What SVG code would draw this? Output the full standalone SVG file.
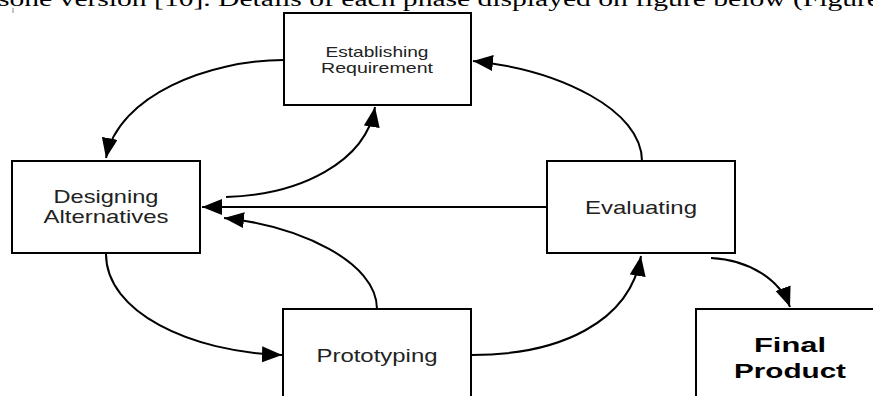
<svg xmlns="http://www.w3.org/2000/svg" width="873" height="396" viewBox="0 0 873 396">
<style>
.box{fill:#fff;stroke:#000;stroke-width:2}
.lbl{font-family:"Liberation Sans",Arial,sans-serif;fill:#222;text-anchor:middle}
.bold{font-weight:bold;fill:#000}
.conn{fill:none;stroke:#000;stroke-width:2}
</style>
<defs>
<marker id="arr" markerUnits="userSpaceOnUse" markerWidth="22" markerHeight="18" refX="20" refY="8" orient="auto" viewBox="0 0 22 18">
<path d="M0,0 L20,8 L0,16 z" fill="#000"/>
</marker>
</defs>
<rect width="873" height="396" fill="#fff"/>
<text x="-2" y="6" font-family="'Liberation Serif','Times New Roman',serif" font-size="20" fill="#000" textLength="882" lengthAdjust="spacingAndGlyphs">sone version [10]. Details of each phase displayed on figure below (Figure</text>
<line x1="13" y1="8" x2="13" y2="13" stroke="#888" stroke-width="1"/>
<g id="connectors">
<path class="conn" d="M284,60 C210,60 118,95 106,158" marker-end="url(#arr)"/>
<path class="conn" d="M226,197 C300,195 366,162 375,107" marker-end="url(#arr)"/>
<path class="conn" d="M642,161 C642,110 560,70 473,61" marker-end="url(#arr)"/>
<path class="conn" d="M547,207 L202,207" marker-end="url(#arr)"/>
<path class="conn" d="M377,309 C377,262 300,226 224,218" marker-end="url(#arr)"/>
<path class="conn" d="M106,254 C106,312 190,352 282,355" marker-end="url(#arr)"/>
<path class="conn" d="M472,355 C560,355 630,322 641,256" marker-end="url(#arr)"/>
<path class="conn" d="M711,258 C750,260 780,280 790,307" marker-end="url(#arr)"/>
</g>
<g id="establishing">
<rect class="box" x="284" y="13" width="187" height="92"/>
<text class="lbl" x="377" y="57" font-size="15" textLength="103" lengthAdjust="spacingAndGlyphs">Establishing</text>
<text class="lbl" x="377" y="73" font-size="15" textLength="112" lengthAdjust="spacingAndGlyphs">Requirement</text>
</g>
<g id="designing">
<rect class="box" x="12" y="161" width="188" height="92"/>
<text class="lbl" x="106" y="203" font-size="18.5" textLength="105" lengthAdjust="spacingAndGlyphs">Designing</text>
<text class="lbl" x="106" y="223" font-size="18.5" textLength="125" lengthAdjust="spacingAndGlyphs">Alternatives</text>
</g>
<g id="evaluating">
<rect class="box" x="547" y="161" width="188" height="92"/>
<text class="lbl" x="641" y="214" font-size="18.5" textLength="112" lengthAdjust="spacingAndGlyphs">Evaluating</text>
</g>
<g id="prototyping">
<rect class="box" x="283" y="309" width="188" height="100"/>
<text class="lbl" x="377" y="362" font-size="18.5" textLength="121" lengthAdjust="spacingAndGlyphs">Prototyping</text>
</g>
<g id="final">
<rect class="box" x="696" y="309" width="188" height="100"/>
<text class="lbl bold" x="790" y="352" font-size="20" textLength="72" lengthAdjust="spacingAndGlyphs">Final</text>
<text class="lbl bold" x="790" y="378" font-size="20" textLength="112" lengthAdjust="spacingAndGlyphs">Product</text>
</g>
</svg>
